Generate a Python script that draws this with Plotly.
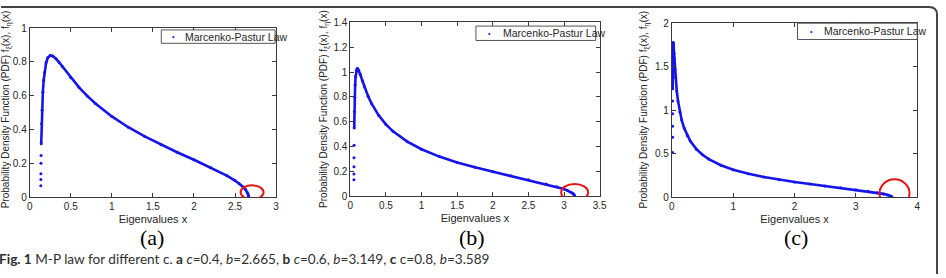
import plotly.graph_objects as go

W, H = 946, 278

# ---------------- data ----------------
# (a) c = 0.4
xa = [0.1353, 0.1356, 0.136, 0.137, 0.138, 0.14, 0.145, 0.15, 0.16, 0.17, 0.18, 0.2, 0.22,
      0.25, 0.28, 0.32, 0.36, 0.4, 0.5, 0.6, 0.7, 0.8, 1.0, 1.2, 1.4, 1.6, 1.8, 2.0, 2.2,
      2.4, 2.5, 2.55, 2.6, 2.63, 2.65, 2.66, 2.664, 2.665]
ya = [0.068, 0.105, 0.140, 0.202, 0.247, 0.316, 0.434, 0.514, 0.621, 0.691, 0.738, 0.796, 0.824,
      0.838, 0.835, 0.819, 0.796, 0.771, 0.707, 0.650, 0.599, 0.554, 0.478, 0.414, 0.360, 0.311,
      0.265, 0.222, 0.177, 0.128, 0.099, 0.082, 0.061, 0.045, 0.029, 0.017, 0.007, 0.0]
# (b) c = 0.6
xb = [0.05102, 0.0512, 0.0515, 0.052, 0.053, 0.055, 0.058, 0.062, 0.068, 0.075, 0.085, 0.095,
      0.105, 0.12, 0.14, 0.17, 0.2, 0.25, 0.3, 0.4, 0.5, 0.6, 0.8, 1.0, 1.25, 1.5, 1.75, 2.0,
      2.25, 2.5, 2.75, 2.9, 3.0, 3.05, 3.1, 3.13, 3.145, 3.149]
yb = [0.134, 0.181, 0.239, 0.310, 0.412, 0.549, 0.682, 0.795, 0.898, 0.965, 1.010, 1.026,
      1.026, 1.012, 0.982, 0.930, 0.880, 0.806, 0.745, 0.650, 0.579, 0.523, 0.440, 0.379, 0.320,
      0.273, 0.234, 0.199, 0.166, 0.134, 0.100, 0.077, 0.059, 0.047, 0.033, 0.021, 0.010, 0.0]
# (c) c = 0.8
xc = [0.01139, 0.0116, 0.0118, 0.0121, 0.0125, 0.013, 0.014, 0.015, 0.017, 0.019, 0.021, 0.023,
      0.026, 0.03, 0.035, 0.04, 0.05, 0.06, 0.08, 0.1, 0.13, 0.16, 0.2, 0.25, 0.3, 0.4, 0.5,
      0.6, 0.8, 1.0, 1.25, 1.5, 1.75, 2.0, 2.25, 2.5, 2.75, 3.0, 3.2, 3.35, 3.45, 3.52, 3.56,
      3.585, 3.589]
yc = [0.516, 0.691, 0.816, 0.960, 1.108, 1.246, 1.435, 1.557, 1.692, 1.753, 1.776, 1.778,
      1.760, 1.718, 1.655, 1.592, 1.475, 1.377, 1.222, 1.108, 0.981, 0.888, 0.796, 0.711, 0.646,
      0.554, 0.489, 0.440, 0.369, 0.318, 0.271, 0.234, 0.203, 0.177, 0.153, 0.131, 0.110, 0.088,
      0.069, 0.053, 0.040, 0.028, 0.018, 0.007, 0.0]

c_values = [0.4, 0.6, 0.8]
b_values = [2.665, 3.149, 3.589]
panel_labels = ["(a)", "(b)", "(c)"]
series_name = "Marcenko-Pastur Law"
x_title = "Eigenvalues x"
y_title = "Probability Density Function (PDF) f<sub>\u03be</sub>(x), f<sub>\u03b7</sub>(x)"
x_ranges = [[0, 3], [0, 3.5], [0, 4]]
y_ranges = [[0, 1], [0, 1.4], [0, 2]]
x_ticks = [[0, 0.5, 1, 1.5, 2, 2.5, 3],
           [0, 0.5, 1, 1.5, 2, 2.5, 3, 3.5],
           [0, 1, 2, 3, 4]]
y_ticks = [[0, 0.2, 0.4, 0.6, 0.8, 1],
           [0, 0.2, 0.4, 0.6, 0.8, 1, 1.2, 1.4],
           [0, 0.5, 1, 1.5, 2]]
caption = ("<b>Fig. 1</b> M-P law for different c. <b>a</b> <i>c</i>=0.4, <i>b</i>=2.665, "
           "<b>b</b> <i>c</i>=0.6, <i>b</i>=3.149, <b>c</b> c=0.8, <i>b</i>=3.589")

# ---------------- layout helpers (pixel -> paper) ----------------
def px(x):
    return x / W

def py(y):
    return 1 - y / H

# axes boxes in pixels: left, right, top, bottom
boxes = [(27, 276, 23, 200), (351, 603, 17, 199), (676, 924, 18, 200)]
legend_boxes = [(160, 275, 25, 39), (478, 599, 21, 36), (803, 924, 18, 35)]
legend_dot_x = [172, 492, 817]
legend_text_x = [182, 503, 828]
ytitle_x = [3, 325, 648]
label_x = [151, 474, 801]
# number of leading samples drawn only as separate dots (steep rise)
n_head = [5, 5, 5]
# red circle pixel offsets relative to (b, 0): x0, x1, y0, y1
circles = [(-8, 15, -2, 12), (-13.5, 13.5, -4.5, 12.5), (-12.5, 17.5, -10, 18)]

BLUE = "rgb(20,20,235)"
AXIS = "#3a3a3a"
TXT = "#262626"

fig = go.Figure()
xs, ys = [xa, xb, xc], [ya, yb, yc]
for i in range(3):
    sfx = "" if i == 0 else str(i + 1)
    k = n_head[i]
    fig.add_trace(go.Scatter(x=xs[i][k:], y=ys[i][k:], mode="lines",
                             line=dict(color=BLUE, width=2.6),
                             xaxis="x" + sfx, yaxis="y" + sfx, showlegend=False,
                             name=series_name, hoverinfo="skip"))
    fig.add_trace(go.Scatter(x=xs[i], y=ys[i], mode="markers",
                             marker=dict(color=BLUE, size=3),
                             xaxis="x" + sfx, yaxis="y" + sfx, showlegend=False,
                             name=series_name))

layout = dict(width=W, height=H, margin=dict(l=0, r=0, t=0, b=0),
              paper_bgcolor="white", plot_bgcolor="white", showlegend=False,
              font=dict(family="Liberation Sans, Arial", size=10, color=TXT))
axis_common = dict(showgrid=False, zeroline=False, showline=True, linecolor=AXIS, linewidth=1,
                   mirror="ticks", ticks="inside", ticklen=4, tickwidth=1, tickcolor=AXIS,
                   tickfont=dict(family="Liberation Sans, Arial", size=10, color=TXT))
annotations = []
shapes = []
for i in range(3):
    l, r, t, b = boxes[i]
    sfx = "" if i == 0 else str(i + 1)
    layout["xaxis" + sfx] = dict(axis_common, domain=[px(l), px(r)], range=x_ranges[i],
                                  tickvals=x_ticks[i], anchor="y" + sfx,
                                  title=dict(text=x_title, standoff=3,
                                             font=dict(family="Liberation Sans, Arial", size=11, color=TXT)))
    layout["yaxis" + sfx] = dict(axis_common, domain=[py(b), py(t)], range=y_ranges[i],
                                  tickvals=y_ticks[i], anchor="x" + sfx)
    # y title
    annotations.append(dict(text=y_title, textangle=-90, xref="paper", yref="paper",
                            x=px(ytitle_x[i]), y=py(108), xanchor="center", yanchor="middle",
                            showarrow=False,
                            font=dict(family="Liberation Sans, Arial", size=10, color=TXT)))
    # legend box
    lb = legend_boxes[i]
    shapes.append(dict(type="rect", xref="paper", yref="paper", x0=px(lb[0]), x1=px(lb[1]),
                       y0=py(lb[3]), y1=py(lb[2]), line=dict(color="#555", width=1),
                       fillcolor="white", layer="above"))
    annotations.append(dict(text="\u2022", xref="paper", yref="paper", x=px(legend_dot_x[i]),
                            y=py((lb[2] + lb[3]) / 2), xanchor="center", yanchor="middle",
                            showarrow=False, font=dict(size=7, color=BLUE)))
    annotations.append(dict(text=series_name, xref="paper", yref="paper", x=px(legend_text_x[i]),
                            y=py((lb[2] + lb[3]) / 2), xanchor="left", yanchor="middle",
                            showarrow=False,
                            font=dict(family="Liberation Sans, Arial", size=10.5, color=TXT)))
    # red circle around the right edge b
    cx0, cx1, cy0, cy1 = circles[i]
    shapes.append(dict(type="circle", xref="x" + sfx, yref="y" + sfx,
                       xsizemode="pixel", ysizemode="pixel",
                       xanchor=b_values[i], yanchor=0,
                       x0=cx0, x1=cx1, y0=cy0, y1=cy1,
                       line=dict(color="rgb(230,20,20)", width=2)))
    # panel label
    annotations.append(dict(text=panel_labels[i], xref="paper", yref="paper", x=px(label_x[i]),
                            y=py(242), xanchor="center", yanchor="middle", showarrow=False,
                            font=dict(family="Liberation Serif, Times New Roman", size=22,
                                      color="black")))

annotations.append(dict(text=caption, xref="paper", yref="paper", x=px(-6), y=py(264),
                        xanchor="left", yanchor="middle", showarrow=False,
                        font=dict(family="Lato, Liberation Sans", size=13.6, color="#303030")))

# outer rounded frame (top and right edge)
shapes.append(dict(type="path", xref="paper", yref="paper",
                   path=f"M {px(-2)},{py(1)} L {px(936)},{py(1)} Q {px(944)},{py(1)} "
                        f"{px(944)},{py(9)} L {px(944)},{py(280)}",
                   line=dict(color="#444", width=2)))

layout["annotations"] = annotations
layout["shapes"] = shapes
fig.update_layout(**layout)
fig.write_html("out.html")
